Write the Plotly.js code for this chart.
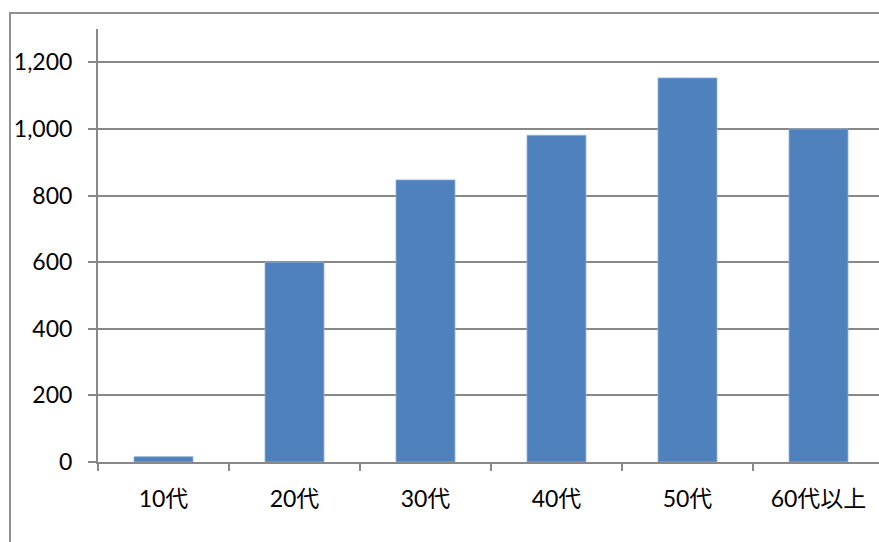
<!DOCTYPE html>
<html>
<head>
<meta charset="utf-8">
<script src="https://cdn.plot.ly/plotly-3.0.1.min.js"></script>
<style>
html, body { margin: 0; padding: 0; overflow: hidden; background: #fff; }
#wrap { position: relative; width: 879px; height: 542px; overflow: hidden; }
#chart { position: absolute; left: 0; top: 0; }
#frame { position: absolute; left: 9px; top: 12px; width: 2000px; height: 2000px;
  border-left: 2px solid #8f8f8f; border-top: 2px solid #8f8f8f; pointer-events: none; }
</style>
</head>
<body>
<div id="wrap">
<div id="chart"></div>
<div id="frame"></div>
</div>
<script>
const categories = ["10代", "20代", "30代", "40代", "50代", "60代以上"];
const values = [16, 600, 847, 981, 1153, 1000];
const yTickVals = [0, 200, 400, 600, 800, 1000, 1200];
const yTickText = ["0", "200", "400", "600", "800", "1,000", "1,200"];

const fontFamily = "Lato, 'Noto Sans CJK JP', sans-serif";

const trace = {
  type: "bar",
  x: categories,
  y: values,
  marker: { color: "#4F81BD", line: { color: "#8fb0dc", width: 0.8 } },
  hoverinfo: "none"
};

const layout = {
  width: 890,
  height: 542,
  margin: { l: 98, r: 6, t: 29, b: 80 },
  paper_bgcolor: "rgba(0,0,0,0)",
  plot_bgcolor: "#ffffff",
  bargap: 0.55,
  showlegend: false,
  font: { family: fontFamily, size: 23, color: "#000000" },
  xaxis: {
    type: "category",
    range: [-0.5, 5.5],
    showline: true,
    linecolor: "#888888",
    linewidth: 2,
    showgrid: false,
    ticks: "outside",
    tickson: "boundaries",
    ticklen: 7,
    tickwidth: 2,
    tickcolor: "#888888",
    ticklabelstandoff: 15,
    tickfont: { family: fontFamily, size: 23, color: "#000" },
    zeroline: false
  },
  yaxis: {
    range: [0, 1300],
    tickvals: yTickVals,
    ticktext: yTickText,
    showline: true,
    linecolor: "#888888",
    linewidth: 2,
    showgrid: true,
    gridcolor: "#888888",
    gridwidth: 2,
    ticks: "outside",
    ticklen: 8,
    tickwidth: 2,
    tickcolor: "#888888",
    ticklabelstandoff: 11,
    tickfont: { family: fontFamily, size: 23, color: "#000" },
    zeroline: false
  }
};

Plotly.newPlot("chart", [trace], layout, { staticPlot: true, displayModeBar: false });
</script>
</body>
</html>
